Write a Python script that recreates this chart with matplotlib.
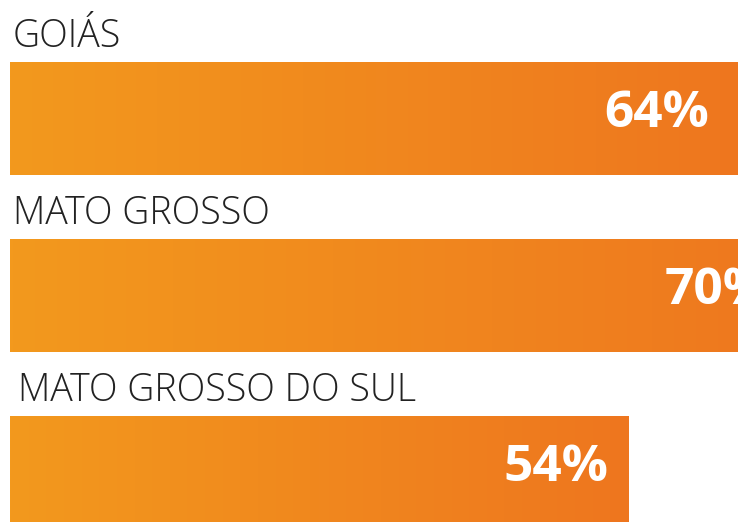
import matplotlib
matplotlib.use("Agg")
import matplotlib.pyplot as plt
import numpy as np
from matplotlib.colors import LinearSegmentedColormap

# data
states = ["GOIÁS", "MATO GROSSO", "MATO GROSSO DO SUL"]
values = [64, 70, 54]
value_labels = ["64%", "70%", "54%"]

W, H, DPI = 738, 522, 100
LEFT_PX = 10
XMAX = 63.6          # 54% bar ends at ~628 px
BAR_H = 0.638
ROW_PX = 177.0
TOP_CENTER_PX = 118.5
LABEL_INDENT_PX = [3, 3, 8]

ORANGE = LinearSegmentedColormap.from_list("orange", ["#f3991d", "#ee761f"])
INK = "#222222"
FONT = ["Open Sans", "DejaVu Sans"]

fig = plt.figure(figsize=(W / DPI, H / DPI), dpi=DPI)
ax = fig.add_axes([LEFT_PX / W, 0, 1 - LEFT_PX / W, 1])
ax.set_xlim(0, XMAX)
ax.set_ylim((H - TOP_CENTER_PX) / ROW_PX, -TOP_CENTER_PX / ROW_PX)
ax.axis("off")

px_to_x = XMAX / (W - LEFT_PX)

y = np.arange(len(states))
bars = ax.barh(y, values, height=BAR_H, color="none", linewidth=0)

grad = np.linspace(0, 1, 256).reshape(1, -1)
for bar, yi, v, lab, name, ind in zip(bars, y, values, value_labels, states, LABEL_INDENT_PX):
    x0, y0 = bar.get_x(), bar.get_y()
    w, h = bar.get_width(), bar.get_height()
    im = ax.imshow(grad, cmap=ORANGE, aspect="auto",
                   extent=(x0, x0 + w, y0 + h, y0), zorder=2)
    im.set_clip_path(bar)
    ax.text(v * 0.883, yi - 0.025, lab, ha="center", va="center",
            color="white", fontsize=37, fontweight="bold",
            family=FONT, zorder=4)
    ax.text(ind * px_to_x, yi - BAR_H / 2 - 15 / ROW_PX, name, ha="left", va="baseline",
            color=INK, fontsize=27, fontweight="light",
            family=FONT, zorder=4)

ax.set_xlim(0, XMAX)
ax.set_ylim((H - TOP_CENTER_PX) / ROW_PX, -TOP_CENTER_PX / ROW_PX)

fig.savefig("out.png", dpi=DPI, facecolor="white")
